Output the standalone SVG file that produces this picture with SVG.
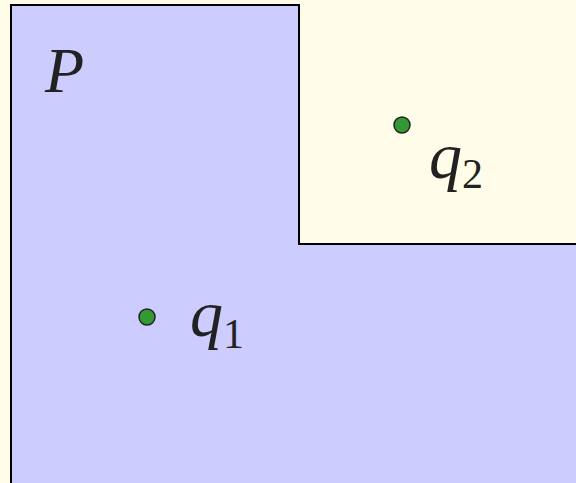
<svg xmlns="http://www.w3.org/2000/svg" width="576" height="483" viewBox="0 0 576 483">
<style>
.lbl{font-family:"Liberation Serif",serif;font-style:italic;fill:#222;}
.sub{font-family:"Liberation Serif",serif;fill:#222;}
.pt{fill:#339933;stroke:#222;stroke-width:1.5;}
</style>
<rect x="0" y="0" width="576" height="483" fill="#FFFDE9"/>
<g id="P">
<path d="M11,490 L11,5 L299,5 L299,244 L580,244 L580,490 Z" fill="#CCCCFF" stroke="#000" stroke-width="2"/>
<text class="lbl" x="45" y="92" font-size="64">P</text>
</g>
<g id="q2">
<circle class="pt" cx="402" cy="125" r="8"/>
<text x="429" y="178" font-size="66"><tspan class="lbl">q</tspan><tspan class="sub" font-size="42" dy="10">2</tspan></text>
</g>
<g id="q1">
<circle class="pt" cx="147" cy="317" r="8"/>
<text x="190" y="336" font-size="66"><tspan class="lbl">q</tspan><tspan class="sub" font-size="42" dy="12">1</tspan></text>
</g>
<g id="connectors"/>
</svg>
